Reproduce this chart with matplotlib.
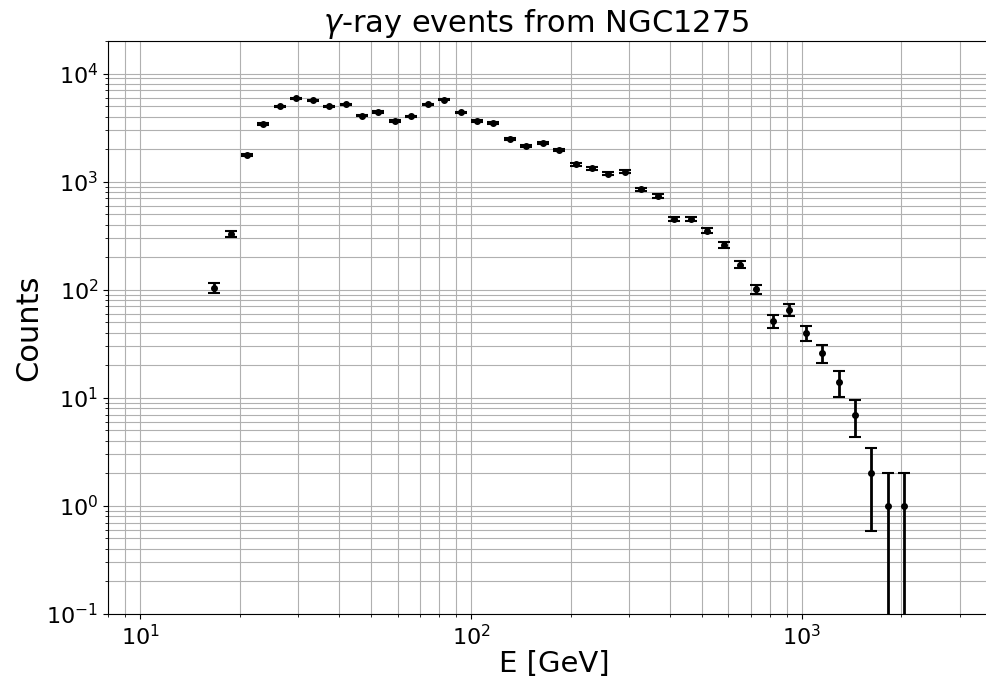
import matplotlib

matplotlib.use("Agg")
import matplotlib.pyplot as plt
import numpy as np

# bin centres (GeV) and event counts
energy = [
    16.74, 18.77, 21.03, 23.59, 26.44, 29.65, 33.23, 37.26, 41.78, 46.84,
    52.52, 58.88, 66.01, 74.01, 82.99, 93.04, 104.3, 116.9, 131.1, 147.0,
    164.8, 184.8, 207.2, 232.3, 260.4, 292.0, 327.3, 367.0, 411.5, 461.3,
    517.3, 580.0, 650.2, 729.0, 817.4, 916.2, 1027, 1152, 1291, 1448,
    1623, 1820, 2041,
]
counts = [
    104, 328, 1770, 3430, 4990, 5880, 5640, 4990, 5180, 4070,
    4400, 3660, 4010, 5210, 5750, 4370, 3660, 3480, 2460, 2120,
    2260, 1950, 1445, 1328, 1186, 1237, 849, 737, 449, 449,
    353, 262, 171, 101, 51, 65, 40, 26, 14, 7,
    2, 1, 1,
]

x = np.array(energy, dtype=float)
y = np.array(counts, dtype=float)
yerr = np.sqrt(y)  # poisson errors

fig = plt.figure(figsize=(9.87, 6.81), dpi=100)
ax = fig.add_axes([108 / 987, 67 / 681, 893 / 987, 573 / 681])
ax.errorbar(x, y, yerr=yerr, fmt="o", color="k", ms=4, elinewidth=2,
            capsize=4, capthick=1.5)
ax.set_xscale("log")
ax.set_yscale("log")
ax.set_xlim(8, 4000)
ax.set_ylim(0.1, 2e4)
ax.grid(True, which="both")
ax.tick_params(axis="both", which="major", labelsize=16)
ax.set_xlabel("E [GeV]", fontsize=21, labelpad=1)
ax.set_ylabel("Counts", fontsize=22, labelpad=2)
ax.set_title(r"$\gamma$-ray events from NGC1275", fontsize=22, x=0.48, pad=6)

fig.savefig("out.png", dpi=100)
